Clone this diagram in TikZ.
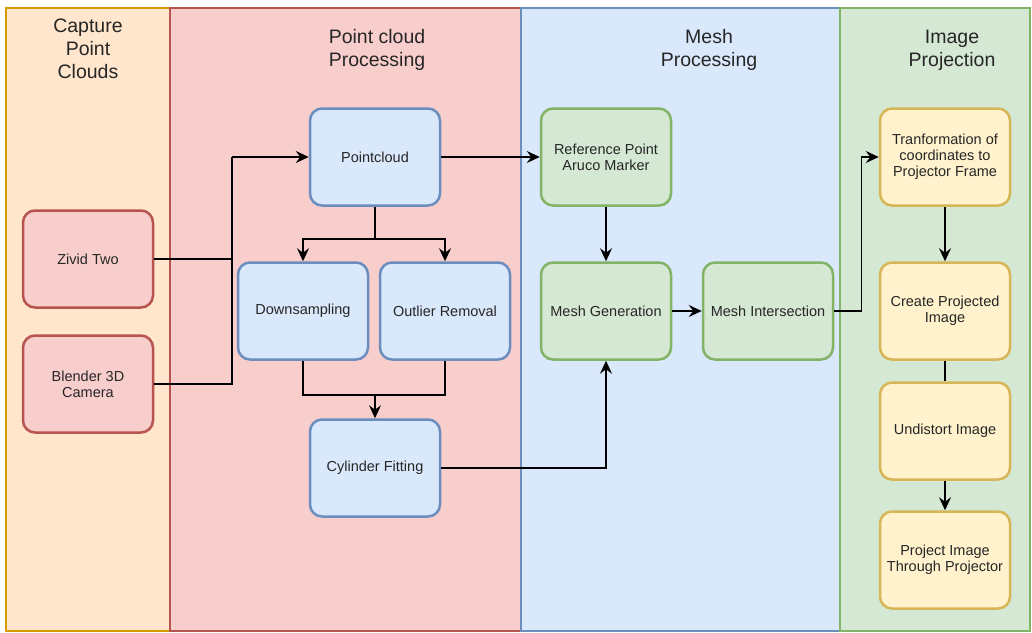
\documentclass[tikz,border=0pt]{standalone}
\usepackage{fontspec}
\setmainfont{Liberation Sans}
\usetikzlibrary{arrows.meta}
\definecolor{laneA}{HTML}{FFE6CC}\definecolor{laneAd}{HTML}{D79B00}
\definecolor{redfill}{HTML}{F8CECC}\definecolor{redline}{HTML}{B85450}
\definecolor{bluefill}{HTML}{DAE8FC}\definecolor{blueline}{HTML}{6C8EBF}
\definecolor{greenfill}{HTML}{D5E8D4}\definecolor{greenline}{HTML}{82B366}
\definecolor{yellowfill}{HTML}{FFF2CC}\definecolor{yellowline}{HTML}{D6B656}
\begin{document}
\begin{tikzpicture}[x=1pt,y=-1pt,
    lane/.style={line width=1.5pt},
    lanetitle/.style={align=center,text=black!85,font=\fontsize{19.5}{23}\selectfont},
    box/.style={rounded corners=12pt,line width=2.5pt,minimum width=130pt,minimum height=97pt,
      align=center,text=black!85,font=\fontsize{14.5}{16}\selectfont,inner sep=2pt},
    redbox/.style={box,fill=redfill,draw=redline},
    bluebox/.style={box,fill=bluefill,draw=blueline},
    greenbox/.style={box,fill=greenfill,draw=greenline},
    yellowbox/.style={box,fill=yellowfill,draw=yellowline},
    arr/.style={line width=1.5pt,-{Stealth[length=13pt,width=12pt,inset=4.5pt]}},
    wire/.style={line width=1.5pt}]
  \useasboundingbox (0,0) rectangle (1032,632);
  \fill[white] (0,0) rectangle (1032,632);
  \draw[lane,fill=laneA,draw=laneAd] (6,8) rectangle (170,631);
  \draw[lane,fill=redfill,draw=redline] (170,8) rectangle (521,631);
  \draw[lane,fill=bluefill,draw=blueline] (521,8) rectangle (840,631);
  \draw[lane,fill=greenfill,draw=greenline] (840,8) rectangle (1030,631);
  \node[lanetitle] (tcap) at (88,49) {Capture\\Point\\Clouds};
  \node[lanetitle] (tpc) at (377,50) {Point cloud\\Processing};
  \node[lanetitle] (tmesh) at (709,50) {Mesh\\Processing};
  \node[lanetitle] (timg) at (952,50) {Image\\Projection};

  \node[redbox] (zivid) at (88,259) {Zivid Two};
  \node[redbox] (blender) at (88,384) {Blender 3D\\Camera};
  \node[bluebox] (pc) at (375,157) {Pointcloud};
  \node[bluebox] (down) at (303,311) {Downsampling};
  \node[bluebox] (outl) at (445,311) {Outlier Removal};
  \node[bluebox] (cyl) at (375,468) {Cylinder Fitting};
  \node[greenbox] (ref) at (606,157) {Reference Point\\Aruco Marker};
  \node[greenbox] (mgen) at (606,311) {Mesh Generation};
  \node[greenbox] (mint) at (768,311) {Mesh Intersection};
  \node[yellowbox] (trans) at (945,157) {Tranformation of\\coordinates to\\Projector Frame};
  \node[yellowbox] (create) at (945,311) {Create Projected\\Image};
  \node[yellowbox] (undist) at (945,431) {Undistort Image};
  \node[yellowbox] (proj) at (945,560) {Project Image\\Through Projector};

  \coordinate (col) at (232,157);
  \coordinate (spl) at (375,239);
  \coordinate (mrg) at (375,395);
  \draw[wire] (zivid.east) -| (col);
  \draw[wire] (blender.east) -| (col);
  \draw[arr] (col) -- (pc.west);
  \draw[wire] (pc.south) -- (spl);
  \draw[arr] (spl) -| (down.north);
  \draw[arr] (spl) -| (outl.north);
  \draw[wire] (down.south) |- (mrg) -| (outl.south);
  \draw[arr] (mrg) -- (cyl.north);
  \draw[arr] (pc.east) -- (ref.west);
  \draw[arr] (ref.south) -- (mgen.north);
  \draw[arr] (cyl.east) -| (mgen.south);
  \draw[arr] (mgen.east) -- (mint.west);
  \draw[arr] (mint.east) -- ++(27,0) |- (trans.west);
  \draw[arr] (trans.south) -- (create.north);
  \draw[wire] (create.south) -- (undist.north);
  \draw[arr] (undist.south) -- (proj.north);
\end{tikzpicture}
\end{document}
